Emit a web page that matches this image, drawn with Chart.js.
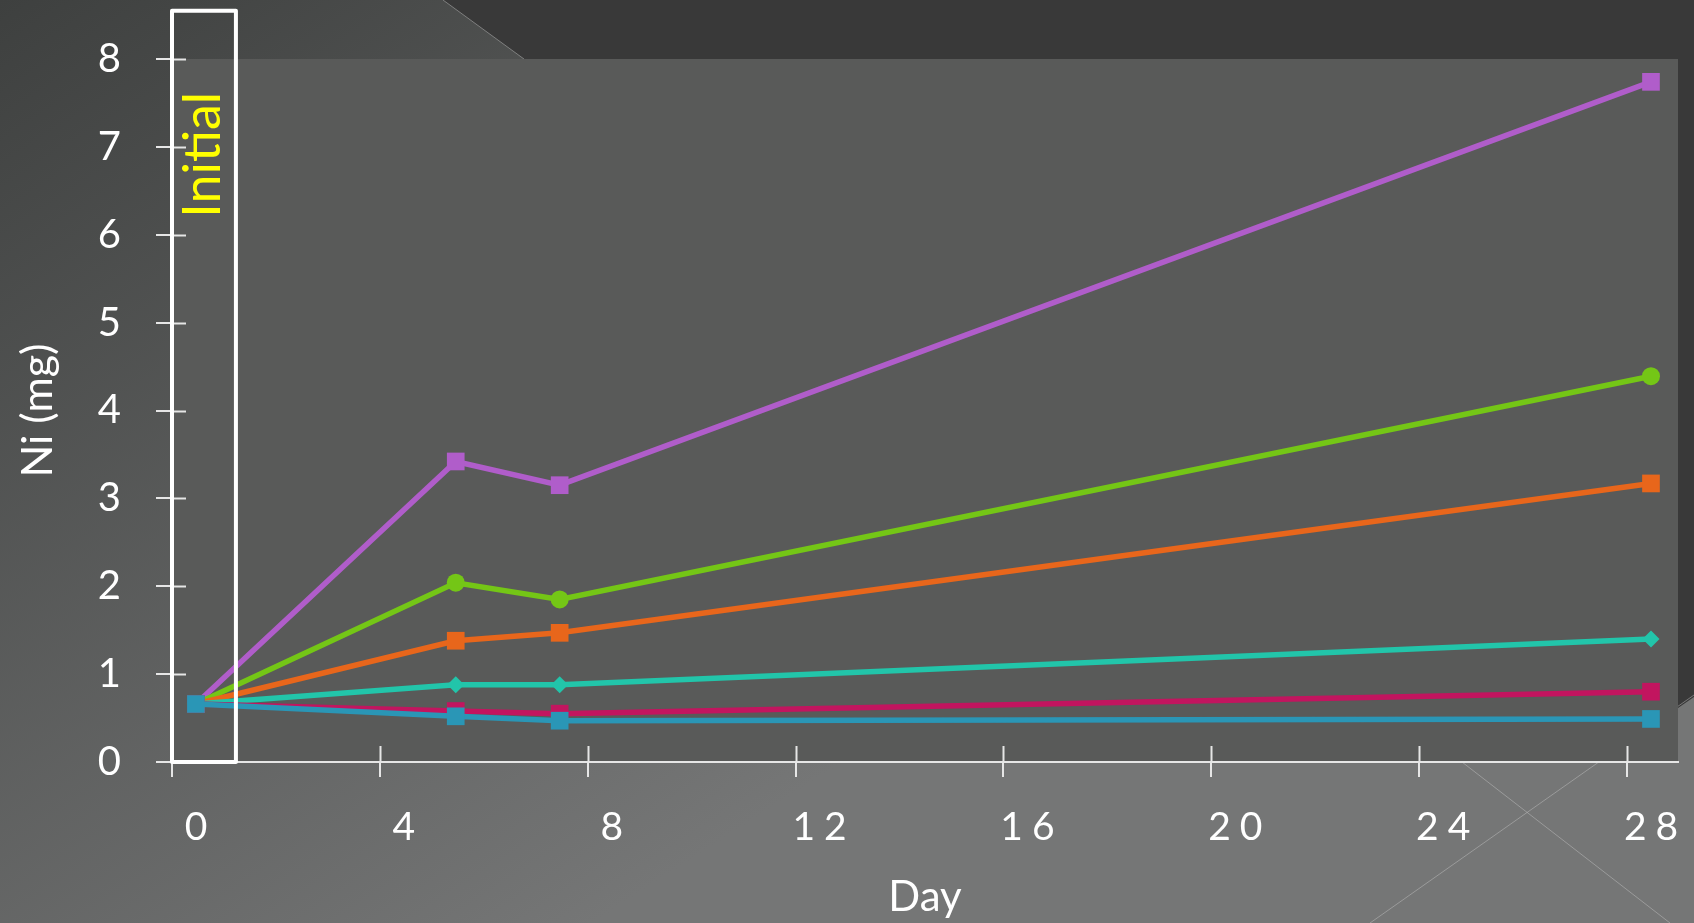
<!DOCTYPE html>
<html>
<head>
<meta charset="utf-8">
<script src="https://cdn.jsdelivr.net/npm/chart.js@4.4.1/dist/chart.umd.min.js"></script>
<style>
  html, body { margin: 0; padding: 0; overflow: hidden; background: #4c4d4d; }
  #wrap { width: 1694px; height: 923px; position: relative; }
</style>
</head>
<body>
<div id="wrap"><canvas id="chart"></canvas></div>
<script>
// sampling days; the points sit on the day labels, tick marks sit a bit to the left
const days = [0, 5, 7, 28]
const xTickLabels = [0, 4, 8, 12, 16, 20, 24, 28]
const tickShift = 0.46
const xMin = -0.46
const xMax = 28.52
const yTicks = [0, 1, 2, 3, 4, 5, 6, 7, 8]

// Ni (mg) per series
const purple = [0.66, 3.42, 3.15, 7.74]
const green = [0.66, 2.04, 1.85, 4.39]
const orange = [0.66, 1.38, 1.47, 3.17]
const teal = [0.66, 0.88, 0.88, 1.40]
const magenta = [0.66, 0.58, 0.55, 0.80]
const blue = [0.66, 0.52, 0.47, 0.49]

// "Initial" box, in data units
const initialBox = {x0: -0.46, x1: 0.77, y0: 0, y1: 8.55}
const initialLabel = {text: 'Initial', x: 0.14, y: 6.91}

const family = 'Lato, "Noto Sans", sans-serif'
const axisColor = '#e6e6e6'
const xLetterSpacing = 9

function series(label, values, color, pointStyle, radius) {
  return {
    label: label,
    data: values.map((v, i) => ({x: days[i], y: v})),
    borderColor: color,
    backgroundColor: color,
    borderWidth: 5.5,
    pointStyle: pointStyle,
    pointRadius: radius,
    pointHoverRadius: radius,
    pointBorderWidth: 0,
    pointBackgroundColor: color,
    tension: 0,
    clip: false,
  }
}

// first dataset is drawn on top in Chart.js, so list top-most first
const datasets = [
  series('Series 6', blue, '#2a96b6', 'rect', 12.5),
  series('Series 5', magenta, '#c2155f', 'rect', 12.5),
  series('Series 4', teal, '#22c5aa', 'rectRot', 8.5),
  series('Series 3', orange, '#e8661b', 'rect', 12.5),
  series('Series 2', green, '#74c616', 'circle', 9),
  series('Series 1', purple, '#b05dca', 'rect', 12.5),
]

const backdrop = {
  id: 'backdrop',
  beforeDraw(chart) {
    const {ctx, width, height, chartArea: a} = chart
    ctx.save()
    let g = ctx.createLinearGradient(0, 0, width * 0.35, height)
    g.addColorStop(0, '#3e403f')
    g.addColorStop(1, '#757676')
    ctx.fillStyle = g
    ctx.fillRect(0, 0, width, height)

    // darker band top right
    ctx.fillStyle = '#393939'
    ctx.beginPath()
    ctx.moveTo(443, 0)
    ctx.lineTo(width, 0)
    ctx.lineTo(width, 697)
    ctx.lineTo(a.right, 708)
    ctx.lineTo(a.right, a.top)
    ctx.lineTo(524, a.top)
    ctx.closePath()
    ctx.fill()

    // thin decorative lines
    ctx.strokeStyle = 'rgba(200, 200, 200, 0.45)'
    ctx.lineWidth = 1
    ctx.beginPath()
    ctx.moveTo(443, 0); ctx.lineTo(524, a.top)
    ctx.moveTo(1370, height); ctx.lineTo(width, 695)
    ctx.moveTo(1462, a.bottom); ctx.lineTo(1670, height)
    ctx.stroke()

    // plot panel
    ctx.fillStyle = '#595a59'
    ctx.fillRect(a.left, a.top, a.right - a.left, a.bottom - a.top)
    ctx.restore()
  },
  beforeDatasetsDraw(chart) {
    // inner halves of the crossing tick marks
    const {ctx, chartArea: a, scales} = chart
    ctx.save()
    ctx.strokeStyle = axisColor
    ctx.lineWidth = 2
    ctx.beginPath()
    for (const t of scales.y.ticks) {
      const py = Math.round(scales.y.getPixelForValue(t.value)) + 0.5
      ctx.moveTo(a.left, py); ctx.lineTo(a.left + 14, py)
    }
    for (const t of scales.x.ticks) {
      const px = Math.round(scales.x.getPixelForValue(t.value)) + 0.5
      ctx.moveTo(px, a.bottom); ctx.lineTo(px, a.bottom - 16)
    }
    ctx.stroke()
    ctx.restore()
  },
  afterDatasetsDraw(chart) {
    // x labels are drawn after this (ticks.z = 1) and are spaced out in the original
    chart.ctx.letterSpacing = xLetterSpacing + 'px'
  },
  afterDraw(chart) {
    const {ctx, scales} = chart
    const x = scales.x, y = scales.y
    ctx.letterSpacing = '0px'
    ctx.save()
    ctx.strokeStyle = '#ffffff'
    ctx.lineWidth = 4
    ctx.lineJoin = 'round'
    const l = x.getPixelForValue(initialBox.x0), r = x.getPixelForValue(initialBox.x1)
    const t = y.getPixelForValue(initialBox.y1), b = y.getPixelForValue(initialBox.y0)
    ctx.strokeRect(l, t, r - l, b - t)

    ctx.translate(x.getPixelForValue(initialLabel.x), y.getPixelForValue(initialLabel.y))
    ctx.rotate(-Math.PI / 2)
    ctx.fillStyle = '#ffff00'
    ctx.font = '52px ' + family
    ctx.textAlign = 'center'
    ctx.textBaseline = 'middle'
    ctx.fillText(initialLabel.text, 0, 0)
    ctx.restore()
  },
}

new Chart(document.getElementById('chart'), {
  type: 'line',
  data: {datasets: datasets},
  plugins: [backdrop],
  options: {
    responsive: true,
    maintainAspectRatio: false,
    animation: false,
    layout: {padding: {left: 12, top: 58, right: 16, bottom: 0}},
    plugins: {
      legend: {display: false},
      tooltip: {enabled: false},
    },
    scales: {
      x: {
        type: 'linear',
        min: xMin,
        max: xMax,
        afterBuildTicks: (s) => { s.ticks = xTickLabels.map((v) => ({value: v - tickShift})) },
        afterFit: (s) => { s.height = 161 },
        ticks: {
          callback: (v, i) => xTickLabels[i],
          labelOffset: 24 + xLetterSpacing / 2,
          padding: 27,
          color: '#ffffff',
          font: {family: family, size: 39},
          maxRotation: 0,
          autoSkip: false,
          z: 1,
        },
        grid: {drawOnChartArea: false, color: axisColor, lineWidth: 2, tickLength: 15},
        border: {color: axisColor, width: 2},
        title: {
          display: true,
          text: 'Day',
          color: '#ffffff',
          font: {family: family, size: 42},
          padding: {top: 0, bottom: 0},
        },
      },
      y: {
        min: 0,
        max: 8,
        afterBuildTicks: (s) => { s.ticks = yTicks.map((v) => ({value: v})) },
        afterFit: (s) => { s.width = 160 },
        ticks: {
          padding: 35,
          color: '#ffffff',
          font: {family: family, size: 40},
        },
        grid: {drawOnChartArea: false, color: axisColor, lineWidth: 2, tickLength: 16},
        border: {color: axisColor, width: 2},
        title: {
          display: true,
          text: 'Ni (mg)',
          color: '#ffffff',
          font: {family: family, size: 43},
          padding: {top: 0, bottom: 0},
        },
      },
    },
  },
})
</script>
</body>
</html>
